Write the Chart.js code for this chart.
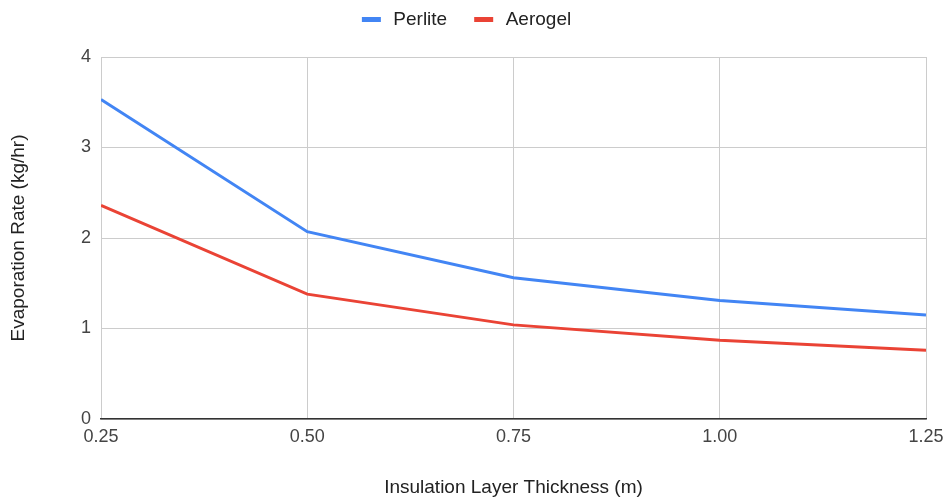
<!DOCTYPE html>
<html><head><meta charset="utf-8">
<script src="https://cdn.jsdelivr.net/npm/chart.js@4/dist/chart.umd.min.js"></script>
<style>html,body{margin:0;padding:0;background:#fff}#wrap{width:947px;height:500px}</style>
</head><body><div id="wrap"><canvas id="c" width="947" height="500"></canvas></div>
<script>
const thickness = [0.25, 0.50, 0.75, 1.00, 1.25];
const perlite = [3.53, 2.07, 1.56, 1.31, 1.15];
const aerogel = [2.36, 1.38, 1.04, 0.87, 0.76];
const seriesNames = ['Perlite', 'Aerogel'];
const xTitle = 'Insulation Layer Thickness (m)';
const yTitle = 'Evaporation Rate (kg/hr)';

const toPts = arr => thickness.map((t, i) => ({x: t, y: arr[i]}));
const FONT = "'Liberation Sans', Arial, sans-serif";

// legend marker: flat bar with transparent margins for spacing
const MARK_L = 17, MARK_W = 19, MARK_R = 3, MARK_H = 5;
function marker(color) {
  const c = document.createElement('canvas');
  c.width = MARK_L + MARK_W + MARK_R; c.height = MARK_H;
  const g = c.getContext('2d');
  g.fillStyle = color; g.fillRect(MARK_L, 0, MARK_W, MARK_H);
  return c;
}

const legendGap = {
  id: 'legendGap',
  beforeInit(chart) {
    const orig = chart.legend.fit;
    chart.legend.fit = function () { orig.call(this); this.height += 18; };
  },
  afterLayout(chart) {
    chart.legend.left -= 5;
    chart.legend.right -= 5;
  }
};

new Chart(document.getElementById('c'), {
  type: 'line',
  data: {
    datasets: [
      {label: seriesNames[0], data: toPts(perlite), borderColor: '#4285F4', backgroundColor: '#4285F4', borderWidth: 3, pointRadius: 0, pointStyle: marker('#4285F4'), tension: 0},
      {label: seriesNames[1], data: toPts(aerogel), borderColor: '#EA4335', backgroundColor: '#EA4335', borderWidth: 3, pointRadius: 0, pointStyle: marker('#EA4335'), tension: 0}
    ]
  },
  plugins: [legendGap],
  options: {
    responsive: false,
    animation: false,
    layout: {padding: {left: 0, right: 21, top: 0, bottom: 0}},
    plugins: {
      legend: {
        position: 'top',
        labels: {font: {family: FONT, size: 19}, color: '#222', usePointStyle: true, pointStyleWidth: MARK_L + MARK_W + MARK_R, padding: 10}
      },
      tooltip: {enabled: false}
    },
    scales: {
      x: {
        type: 'linear', min: 0.25, max: 1.25,
        ticks: {stepSize: 0.25, callback: v => v.toFixed(2), font: {family: FONT, size: 18}, color: '#444', padding: 7, maxRotation: 0},
        grid: {color: '#cccccc', drawTicks: false},
        border: {color: '#333333', width: 1.5},
        title: {display: true, text: xTitle, font: {family: FONT, size: 19}, color: '#222', padding: {top: 20, bottom: 1}},
        afterFit: s => { s.height = 81; s.paddingRight = 0; s.paddingLeft = 0; }
      },
      y: {
        min: 0, max: 4,
        ticks: {stepSize: 1, font: {family: FONT, size: 18}, color: '#444', padding: 10},
        grid: {color: '#cccccc', drawTicks: false},
        border: {display: false},
        title: {display: true, text: yTitle, font: {family: FONT, size: 19}, color: '#222', padding: {top: 7, bottom: 20}},
        afterFit: s => { s.width = 101; }
      }
    }
  }
});
</script></body></html>
